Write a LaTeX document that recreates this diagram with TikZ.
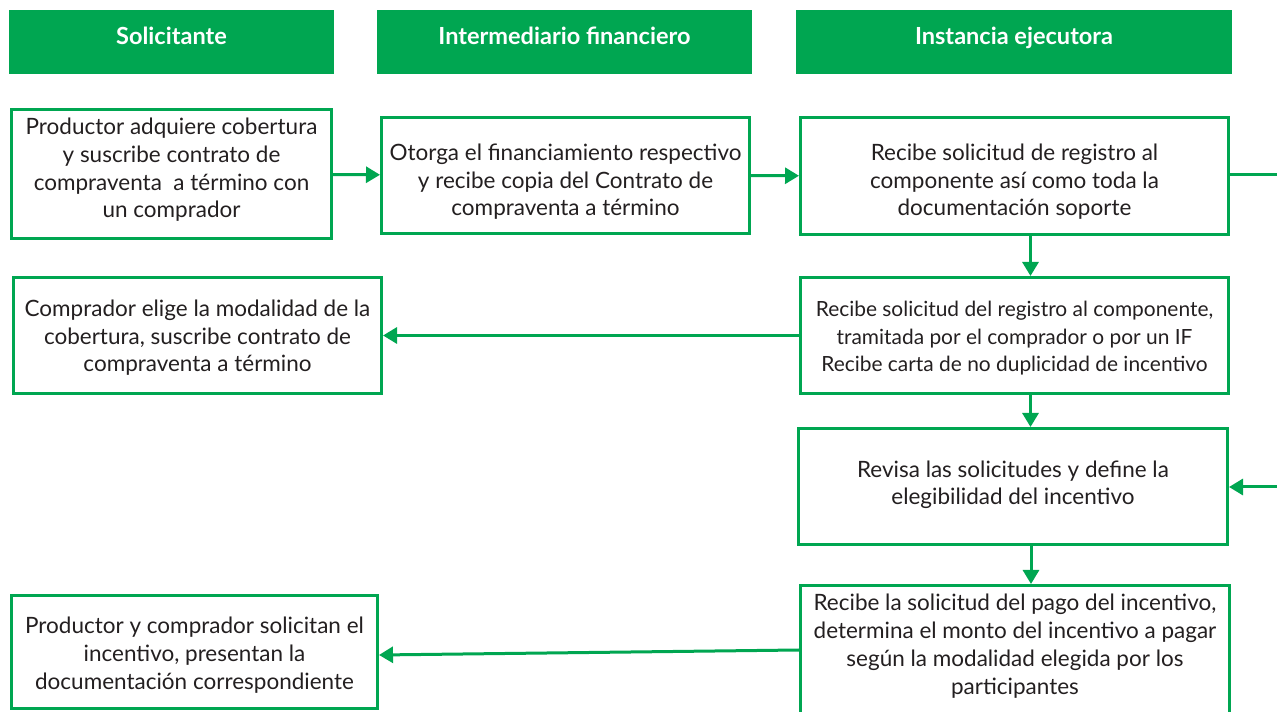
\documentclass[tikz,border=0pt]{standalone}
\usepackage{fontspec}
\setmainfont{Lato}
\usepackage{xcolor}
\usetikzlibrary{arrows.meta,positioning}
\definecolor{verde}{HTML}{00A651}
\definecolor{texto}{HTML}{231F20}

\begin{document}
\begin{tikzpicture}[
    header/.style={fill=verde,text=white,inner sep=0pt,text depth=0pt,text height=0.12cm,
      minimum height=1.28cm,font=\bfseries\fontsize{13.4}{16}\selectfont},
    caja/.style={draw=verde,line width=0.06cm,text=texto,align=center,inner sep=2pt,
      text depth=0pt,font=\fontsize{12.8}{15.9}\selectfont},
    flecha/.style={draw=verde,line width=0.06cm,-{Triangle[length=0.28cm,width=0.32cm]}},
    linea/.style={draw=verde,line width=0.06cm}
  ]
  \useasboundingbox (0,0) rectangle (25.54,-14.24);

  % Column headers
  \node[header,minimum width=6.5cm] (h1) at (3.43,-0.84) {Solicitante};
  \node[header,minimum width=7.5cm] (h2) at (11.29,-0.84) {Intermediario financiero};
  \node[header,minimum width=8.72cm] (h3) at (20.28,-0.84) {Instancia ejecutora};

  % Steps
  \node[caja,minimum width=6.4cm,minimum height=2.58cm,text height=1.76cm] (b1) at (3.43,-3.48)
    {Productor adquiere cobertura\\y suscribe contrato de\\compraventa \ a término con\\un comprador};
  \node[caja,minimum width=7.36cm,minimum height=2.32cm,text height=1.62cm] (b2) at (11.31,-3.51)
    {Otorga el financiamiento respectivo\\y recibe copia del Contrato de\\compraventa a término};
  \node[caja,minimum width=8.56cm,minimum height=2.34cm,text height=1.60cm] (b3) at (20.29,-3.52)
    {Recibe solicitud de registro al\\componente así como toda la\\documentación soporte};
  \node[caja,minimum width=8.56cm,minimum height=2.32cm,text height=1.46cm,
    font=\fontsize{11.9}{15.9}\selectfont] (b4) at (20.29,-6.71)
    {Recibe solicitud del registro al componente,\\tramitada por el comprador o por un IF\\Recibe carta de no duplicidad de incentivo};
  \node[caja,minimum width=7.36cm,minimum height=2.32cm,text height=1.46cm] (b5) at (3.95,-6.71)
    {Comprador elige la modalidad de la\\cobertura, suscribe contrato de\\compraventa a término};
  \node[caja,minimum width=8.58cm,minimum height=2.32cm,text height=0.74cm] (b6) at (20.26,-9.73)
    {Revisa las solicitudes y define la\\elegibilidad del incentivo};
  \node[caja,minimum width=8.58cm,minimum height=2.68cm,text height=1.66cm] (b7) at (20.30,-13.05)
    {Recibe la solicitud del pago del incentivo,\\determina el monto del incentivo a pagar\\según la modalidad elegida por los\\participantes};
  \node[caja,minimum width=7.32cm,minimum height=2.26cm,text height=1.48cm] (b8) at (3.89,-13.04)
    {Productor y comprador solicitan el\\incentivo, presentan la\\documentación correspondiente};

  % Off-page connections
  \coordinate (salida) at (25.54,-3.50);
  \coordinate (entrada) at (25.54,-9.74);

  % Connectors
  \draw[flecha] (b1) -- (b2);
  \draw[flecha] (b2) -- (b3);
  \draw[linea] (b3.east |- salida) -- (salida);
  \draw[flecha] (entrada) -- (b6.east |- entrada);
  \draw[flecha] ([xshift=0.32cm]b3.south) -- ([xshift=0.32cm]b3.south |- b4.north);
  \draw[flecha] (b4) -- (b5);
  \draw[flecha] ([xshift=0.32cm]b4.south) -- ([xshift=0.32cm]b4.south |- b6.north);
  \draw[flecha] ([xshift=0.36cm]b6.south) -- ([xshift=0.36cm]b6.south |- b7.north);
  \draw[flecha] ([yshift=0.05cm]b7.west) -- ([yshift=-0.06cm]b8.east);
\end{tikzpicture}
\end{document}
